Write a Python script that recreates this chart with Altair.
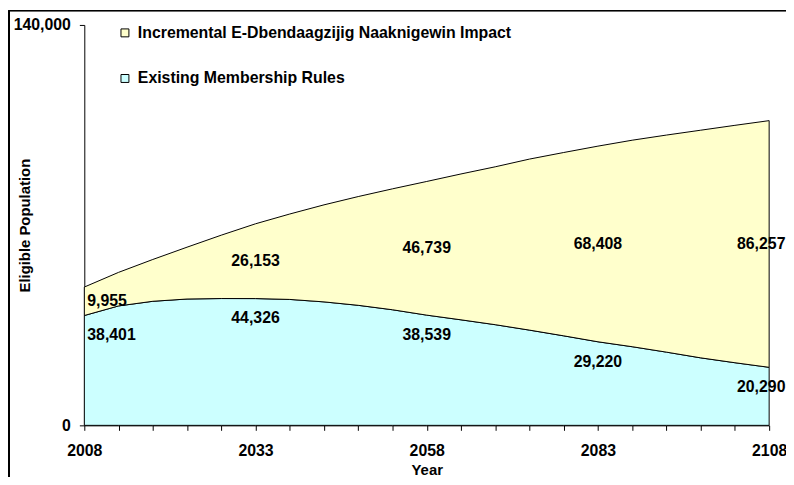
import altair as alt
import pandas as pd

# ---- data ----
years = list(range(2008, 2109, 5))
existing = [38401, 41760, 43380, 44170, 44340, 44326, 44030, 43170, 41970, 40420,
            38539, 36900, 35200, 33300, 31300, 29220, 27500, 25600, 23600, 21900, 20290]
incremental = [9955, 11730, 14620, 18130, 22160, 26153, 29870, 33930, 38030, 42280,
               46739, 51000, 55200, 59800, 64100, 68408, 72200, 75900, 79600, 83000, 86257]
series_names = ["Incremental E-Dbendaagzijig Naaknigewin Impact", "Existing Membership Rules"]
series_colors = ["#FFFFCC", "#CCFFFF"]
label_years = [2008, 2033, 2058, 2083, 2108]
y_ticks = [0, 140000]

FONT = "Liberation Sans"
FS = 16

rows = []
for yr, ex, inc in zip(years, existing, incremental):
    rows.append({"year": yr, "series": series_names[1], "value": ex, "ord": 0})
    rows.append({"year": yr, "series": series_names[0], "value": inc, "ord": 1})
df = pd.DataFrame(rows)

lab_rows = []
for yr, ex, inc in zip(years, existing, incremental):
    if yr in label_years:
        pos = "first" if yr == label_years[0] else ("last" if yr == label_years[-1] else "mid")
        lab_rows.append({"year": yr, "value": ex, "ypos": ex, "kind": "ex", "pos": pos})
        lab_rows.append({"year": yr, "value": inc, "ypos": ex + inc / 2, "kind": "inc", "pos": pos})
lab = pd.DataFrame(lab_rows)

W, H = 691, 404

x_scale = alt.Scale(domain=[years[0], years[-1]], nice=False, zero=False)
y_scale = alt.Scale(domain=[0, 140000], nice=False)

x_axis = alt.Axis(
    values=years,
    labelExpr="(datum.value - 2008) % 25 == 0 ? format(datum.value, 'd') : ''",
    labelFlush=False,
    labelOverlap=False,
    labelFont=FONT, labelFontSize=FS, labelFontWeight="bold", labelColor="black",
    labelPadding=12,
    tickSize=5, tickColor="black", domainColor="black", grid=False,
    title="Year", titleFont=FONT, titleFontSize=15, titleFontWeight="bold",
    titleColor="black", titleX=W / 2, titleY=45, titleBaseline="middle",
)
y_axis = alt.Axis(
    values=y_ticks,
    labelExpr="format(datum.value, ',')",
    labelOverlap=False,
    labelFont=FONT, labelFontSize=FS, labelFontWeight="bold", labelColor="black",
    labelPadding=9, tickSize=5, tickColor="black", domainColor="black", grid=False,
    title="Eligible Population", titleFont=FONT, titleFontSize=15,
    titleFontWeight="bold", titleColor="black", titleAngle=270,
    titleX=-60, titleY=H / 2, titleBaseline="middle", titleAlign="center",
)

area = alt.Chart(df).mark_area(stroke="black", strokeWidth=1, opacity=1).encode(
    x=alt.X("year:Q", scale=x_scale, axis=x_axis),
    y=alt.Y("value:Q", stack="zero", scale=y_scale, axis=y_axis),
    color=alt.Color(
        "series:N",
        scale=alt.Scale(domain=series_names, range=series_colors),
        legend=alt.Legend(
            title=None, orient="none", legendX=33, legendY=0,
            symbolType="square", symbolSize=64, symbolStrokeColor="black",
            symbolStrokeWidth=1, symbolOpacity=1, labelFont=FONT, labelFontSize=FS,
            labelFontWeight="bold", labelColor="black", labelOffset=5,
            labelLimit=700, rowPadding=30, padding=0,
        ),
    ),
    order=alt.Order("ord:Q"),
)

def text_layer(pos, align, dx):
    base = alt.Chart(lab).transform_filter(alt.datum.pos == pos)
    enc = dict(
        x=alt.X("year:Q", scale=x_scale, axis=x_axis),
        y=alt.Y("ypos:Q", scale=y_scale, axis=y_axis),
        text=alt.Text("value:Q", format=","),
    )
    ex = base.transform_filter(alt.datum.kind == "ex").mark_text(
        font=FONT, fontSize=FS, fontWeight="bold", color="black",
        align=align, baseline="middle", dx=dx, dy=20,
    ).encode(**enc)
    inc = base.transform_filter(alt.datum.kind == "inc").mark_text(
        font=FONT, fontSize=FS, fontWeight="bold", color="black",
        align=align, baseline="middle", dx=dx,
    ).encode(**enc)
    return ex + inc

labels = text_layer("first", "left", 3) + text_layer("mid", "center", 0) + text_layer("last", "center", -8)

frame_left = alt.Chart(lab).mark_rule(color="black", strokeWidth=1).encode(
    x=alt.value(-76), y=alt.value(-14.5), y2=alt.value(H + 60)
)
frame_top = alt.Chart(lab).mark_rule(color="black", strokeWidth=1).encode(
    x=alt.value(-76), x2=alt.value(W + 20), y=alt.value(-14.5)
)

chart = alt.layer(area, labels, frame_left, frame_top).properties(
    width=W, height=H,
    autosize=alt.AutoSizeParams(type="none"),
    padding={"left": 77, "top": 15, "right": 17, "bottom": 50},
    background="white",
).configure_view(stroke=None)

chart.save("out.html", embed_options={"renderer": "svg", "actions": False})
